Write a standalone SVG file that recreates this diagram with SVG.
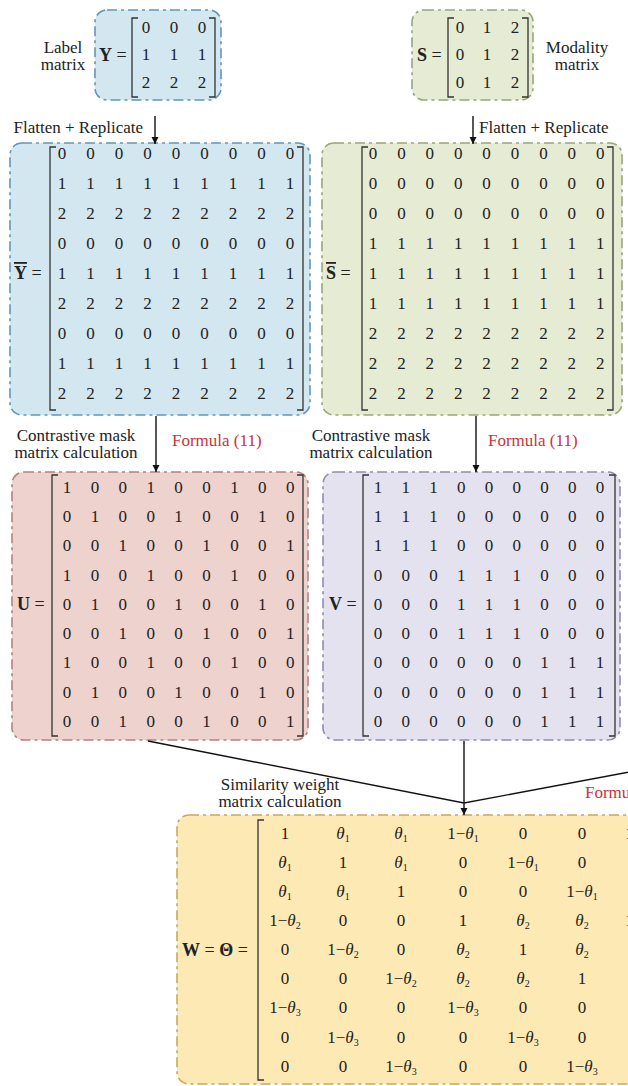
<svg xmlns="http://www.w3.org/2000/svg" width="628" height="1086" viewBox="0 0 628 1086" font-family="'Liberation Serif', 'Times New Roman', serif">
  <defs>
    <marker id="arrow" viewBox="0 0 10 10" refX="10" refY="5" markerWidth="7" markerHeight="9" markerUnits="userSpaceOnUse" orient="auto">
      <path d="M0,0 L10,5 L0,10 z" fill="#111"/>
    </marker>
    <style>
      text { font-family: "Liberation Serif", "Times New Roman", serif; fill: #222; }
      .m { font-size: 17px; text-anchor: middle; }
      .lbl { font-size: 17px; }
      .ctr { text-anchor: middle; }
      .red { fill: #c8343a; font-size: 17px; }
      .nm { font-size: 18px; }
      .b { font-weight: bold; }
      .ov { text-decoration: overline; }
      .th { font-style: italic; }
      .sub { font-size: 10px; }
      .br { fill: none; stroke: #333; stroke-width: 1.3; }
      .box { stroke-width: 1.6; stroke-dasharray: 10 4 3 4; }
      .blue { fill: #d3e7f0; stroke: #6496b8; }
      .green { fill: #e6ebd4; stroke: #98a778; }
      .pink { fill: #edd2ce; stroke: #b8807b; }
      .lav { fill: #e4e2ef; stroke: #908cb2; }
      .yel { fill: #fde9b3; stroke: #c8a95c; }
      .conn { fill: none; stroke: #111; stroke-width: 1.4; }
    </style>
  </defs>

  <rect width="628" height="1086" fill="#ffffff"/>

  <!-- label matrix Y -->
  <g id="node-Y">
    <rect class="box blue" x="95" y="10" width="126" height="90" rx="12"/>
    <text class="lbl ctr" x="63" y="53">Label</text>
    <text class="lbl ctr" x="63" y="70">matrix</text>
    <text class="nm" x="99" y="61"><tspan class="b">Y</tspan> =</text>
    <path class="br" d="M138,18 H132 V97 H138"/>
    <path class="br" d="M209,18 H215 V97 H209"/>
    <text class="m" x="146 174 202" y="33">000</text>
    <text class="m" x="146 174 202" y="60">111</text>
    <text class="m" x="146 174 202" y="88">222</text>
  </g>

  <!-- modality matrix S -->
  <g id="node-S">
    <rect class="box green" x="412" y="10" width="121" height="90" rx="12"/>
    <text class="nm" x="417" y="61"><tspan class="b">S</tspan> =</text>
    <path class="br" d="M454,18 H448 V97 H454"/>
    <path class="br" d="M522,18 H528 V97 H522"/>
    <text class="m" x="460 487 515" y="33">012</text>
    <text class="m" x="460 487 515" y="60">012</text>
    <text class="m" x="460 487 515" y="88">012</text>
    <text class="lbl ctr" x="577" y="53">Modality</text>
    <text class="lbl ctr" x="577" y="70">matrix</text>
  </g>

  <!-- replicated label matrix -->
  <g id="node-Ybar">
    <rect class="box blue" x="10" y="143" width="300" height="272" rx="12"/>
    <text class="nm" x="14" y="279"><tspan class="b ov">Y</tspan> =</text>
    <path class="br" d="M56,147 H50 V410 H56"/>
    <path class="br" d="M297,147 H303 V410 H297"/>
    <text class="m" x="62 90.5 119 147.5 176 204.5 233 261.5 290" y="159">000000000</text>
    <text class="m" x="62 90.5 119 147.5 176 204.5 233 261.5 290" y="189">111111111</text>
    <text class="m" x="62 90.5 119 147.5 176 204.5 233 261.5 290" y="219">222222222</text>
    <text class="m" x="62 90.5 119 147.5 176 204.5 233 261.5 290" y="249">000000000</text>
    <text class="m" x="62 90.5 119 147.5 176 204.5 233 261.5 290" y="279">111111111</text>
    <text class="m" x="62 90.5 119 147.5 176 204.5 233 261.5 290" y="309">222222222</text>
    <text class="m" x="62 90.5 119 147.5 176 204.5 233 261.5 290" y="339">000000000</text>
    <text class="m" x="62 90.5 119 147.5 176 204.5 233 261.5 290" y="369">111111111</text>
    <text class="m" x="62 90.5 119 147.5 176 204.5 233 261.5 290" y="399">222222222</text>
  </g>

  <!-- replicated modality matrix -->
  <g id="node-Sbar">
    <rect class="box green" x="322" y="143" width="300" height="272" rx="12"/>
    <text class="nm" x="326" y="279"><tspan class="b ov">S</tspan> =</text>
    <path class="br" d="M368,147 H362 V410 H368"/>
    <path class="br" d="M607,147 H613 V410 H607"/>
    <text class="m" x="373 401.4 429.8 458.2 486.6 515 543.4 571.8 600.2" y="159">000000000</text>
    <text class="m" x="373 401.4 429.8 458.2 486.6 515 543.4 571.8 600.2" y="189">000000000</text>
    <text class="m" x="373 401.4 429.8 458.2 486.6 515 543.4 571.8 600.2" y="219">000000000</text>
    <text class="m" x="373 401.4 429.8 458.2 486.6 515 543.4 571.8 600.2" y="249">111111111</text>
    <text class="m" x="373 401.4 429.8 458.2 486.6 515 543.4 571.8 600.2" y="279">111111111</text>
    <text class="m" x="373 401.4 429.8 458.2 486.6 515 543.4 571.8 600.2" y="309">111111111</text>
    <text class="m" x="373 401.4 429.8 458.2 486.6 515 543.4 571.8 600.2" y="339">222222222</text>
    <text class="m" x="373 401.4 429.8 458.2 486.6 515 543.4 571.8 600.2" y="369">222222222</text>
    <text class="m" x="373 401.4 429.8 458.2 486.6 515 543.4 571.8 600.2" y="399">222222222</text>
  </g>

  <!-- label mask U -->
  <g id="node-U">
    <rect class="box pink" x="12" y="472" width="296" height="268" rx="12"/>
    <text class="nm" x="17" y="610"><tspan class="b">U</tspan> =</text>
    <path class="br" d="M58,475 H52 V736 H58"/>
    <path class="br" d="M297,475 H303 V736 H297"/>
    <text class="m" x="67 94.9 122.8 150.7 178.6 206.5 234.4 262.3 290.2" y="493">100100100</text>
    <text class="m" x="67 94.9 122.8 150.7 178.6 206.5 234.4 262.3 290.2" y="522">010010010</text>
    <text class="m" x="67 94.9 122.8 150.7 178.6 206.5 234.4 262.3 290.2" y="551">001001001</text>
    <text class="m" x="67 94.9 122.8 150.7 178.6 206.5 234.4 262.3 290.2" y="581">100100100</text>
    <text class="m" x="67 94.9 122.8 150.7 178.6 206.5 234.4 262.3 290.2" y="610">010010010</text>
    <text class="m" x="67 94.9 122.8 150.7 178.6 206.5 234.4 262.3 290.2" y="639">001001001</text>
    <text class="m" x="67 94.9 122.8 150.7 178.6 206.5 234.4 262.3 290.2" y="668">100100100</text>
    <text class="m" x="67 94.9 122.8 150.7 178.6 206.5 234.4 262.3 290.2" y="698">010010010</text>
    <text class="m" x="67 94.9 122.8 150.7 178.6 206.5 234.4 262.3 290.2" y="727">001001001</text>
  </g>

  <!-- modality mask V -->
  <g id="node-V">
    <rect class="box lav" x="323" y="472" width="297" height="268" rx="12"/>
    <text class="nm" x="329" y="610"><tspan class="b">V</tspan> =</text>
    <path class="br" d="M369,475 H363 V736 H369"/>
    <path class="br" d="M609,475 H615 V736 H609"/>
    <text class="m" x="378 405.75 433.5 461.25 489 516.75 544.5 572.25 600" y="493">111000000</text>
    <text class="m" x="378 405.75 433.5 461.25 489 516.75 544.5 572.25 600" y="522">111000000</text>
    <text class="m" x="378 405.75 433.5 461.25 489 516.75 544.5 572.25 600" y="551">111000000</text>
    <text class="m" x="378 405.75 433.5 461.25 489 516.75 544.5 572.25 600" y="581">000111000</text>
    <text class="m" x="378 405.75 433.5 461.25 489 516.75 544.5 572.25 600" y="610">000111000</text>
    <text class="m" x="378 405.75 433.5 461.25 489 516.75 544.5 572.25 600" y="639">000111000</text>
    <text class="m" x="378 405.75 433.5 461.25 489 516.75 544.5 572.25 600" y="668">000000111</text>
    <text class="m" x="378 405.75 433.5 461.25 489 516.75 544.5 572.25 600" y="698">000000111</text>
    <text class="m" x="378 405.75 433.5 461.25 489 516.75 544.5 572.25 600" y="727">000000111</text>
  </g>

  <!-- similarity weight matrix W -->
  <g id="node-W">
    <rect class="box yel" x="177" y="815" width="480" height="269" rx="12"/>
    <text class="nm" x="182" y="956"><tspan class="b">W</tspan> = <tspan class="b">Θ</tspan> =</text>
    <path class="br" d="M264,820 H258 V1080 H264"/>
    <!-- row 1 -->
    <text class="m" x="285" y="839">1</text>
    <text class="m" x="343" y="839"><tspan class="th">θ</tspan><tspan class="sub" dy="3">1</tspan></text>
    <text class="m" x="401" y="839"><tspan class="th">θ</tspan><tspan class="sub" dy="3">1</tspan></text>
    <text class="m" x="463" y="839">1−<tspan class="th">θ</tspan><tspan class="sub" dy="3">1</tspan></text>
    <text class="m" x="523" y="839">0</text>
    <text class="m" x="582" y="839">0</text>
    <text class="m" x="641" y="839">1−<tspan class="th">θ</tspan><tspan class="sub" dy="3">1</tspan></text>
    <!-- row 2 -->
    <text class="m" x="285" y="868"><tspan class="th">θ</tspan><tspan class="sub" dy="3">1</tspan></text>
    <text class="m" x="343" y="868">1</text>
    <text class="m" x="401" y="868"><tspan class="th">θ</tspan><tspan class="sub" dy="3">1</tspan></text>
    <text class="m" x="463" y="868">0</text>
    <text class="m" x="523" y="868">1−<tspan class="th">θ</tspan><tspan class="sub" dy="3">1</tspan></text>
    <text class="m" x="582" y="868">0</text>
    <!-- row 3 -->
    <text class="m" x="285" y="897"><tspan class="th">θ</tspan><tspan class="sub" dy="3">1</tspan></text>
    <text class="m" x="343" y="897"><tspan class="th">θ</tspan><tspan class="sub" dy="3">1</tspan></text>
    <text class="m" x="401" y="897">1</text>
    <text class="m" x="463" y="897">0</text>
    <text class="m" x="523" y="897">0</text>
    <text class="m" x="582" y="897">1−<tspan class="th">θ</tspan><tspan class="sub" dy="3">1</tspan></text>
    <!-- row 4 -->
    <text class="m" x="285" y="926">1−<tspan class="th">θ</tspan><tspan class="sub" dy="3">2</tspan></text>
    <text class="m" x="343" y="926">0</text>
    <text class="m" x="401" y="926">0</text>
    <text class="m" x="463" y="926">1</text>
    <text class="m" x="523" y="926"><tspan class="th">θ</tspan><tspan class="sub" dy="3">2</tspan></text>
    <text class="m" x="582" y="926"><tspan class="th">θ</tspan><tspan class="sub" dy="3">2</tspan></text>
    <text class="m" x="641" y="926">1−<tspan class="th">θ</tspan><tspan class="sub" dy="3">2</tspan></text>
    <!-- row 5 -->
    <text class="m" x="285" y="955">0</text>
    <text class="m" x="343" y="955">1−<tspan class="th">θ</tspan><tspan class="sub" dy="3">2</tspan></text>
    <text class="m" x="401" y="955">0</text>
    <text class="m" x="463" y="955"><tspan class="th">θ</tspan><tspan class="sub" dy="3">2</tspan></text>
    <text class="m" x="523" y="955">1</text>
    <text class="m" x="582" y="955"><tspan class="th">θ</tspan><tspan class="sub" dy="3">2</tspan></text>
    <!-- row 6 -->
    <text class="m" x="285" y="984">0</text>
    <text class="m" x="343" y="984">0</text>
    <text class="m" x="401" y="984">1−<tspan class="th">θ</tspan><tspan class="sub" dy="3">2</tspan></text>
    <text class="m" x="463" y="984"><tspan class="th">θ</tspan><tspan class="sub" dy="3">2</tspan></text>
    <text class="m" x="523" y="984"><tspan class="th">θ</tspan><tspan class="sub" dy="3">2</tspan></text>
    <text class="m" x="582" y="984">1</text>
    <!-- row 7 -->
    <text class="m" x="285" y="1013">1−<tspan class="th">θ</tspan><tspan class="sub" dy="3">3</tspan></text>
    <text class="m" x="343" y="1013">0</text>
    <text class="m" x="401" y="1013">0</text>
    <text class="m" x="463" y="1013">1−<tspan class="th">θ</tspan><tspan class="sub" dy="3">3</tspan></text>
    <text class="m" x="523" y="1013">0</text>
    <text class="m" x="582" y="1013">0</text>
    <!-- row 8 -->
    <text class="m" x="285" y="1043">0</text>
    <text class="m" x="343" y="1043">1−<tspan class="th">θ</tspan><tspan class="sub" dy="3">3</tspan></text>
    <text class="m" x="401" y="1043">0</text>
    <text class="m" x="463" y="1043">0</text>
    <text class="m" x="523" y="1043">1−<tspan class="th">θ</tspan><tspan class="sub" dy="3">3</tspan></text>
    <text class="m" x="582" y="1043">0</text>
    <!-- row 9 -->
    <text class="m" x="285" y="1072">0</text>
    <text class="m" x="343" y="1072">0</text>
    <text class="m" x="401" y="1072">1−<tspan class="th">θ</tspan><tspan class="sub" dy="3">3</tspan></text>
    <text class="m" x="463" y="1072">0</text>
    <text class="m" x="523" y="1072">0</text>
    <text class="m" x="582" y="1072">1−<tspan class="th">θ</tspan><tspan class="sub" dy="3">3</tspan></text>
  </g>

  <!-- connectors and their labels -->
  <g id="connectors">
    <line class="conn" x1="155" y1="116" x2="155" y2="144" marker-end="url(#arrow)"/>
    <line class="conn" x1="473" y1="116" x2="473" y2="144" marker-end="url(#arrow)"/>
    <text class="lbl" x="143" y="133" text-anchor="end">Flatten + Replicate</text>
    <text class="lbl" x="479" y="133">Flatten + Replicate</text>

    <line class="conn" x1="156" y1="416" x2="156" y2="472" marker-end="url(#arrow)"/>
    <line class="conn" x1="476" y1="416" x2="476" y2="472" marker-end="url(#arrow)"/>
    <text class="lbl ctr" x="76" y="441">Contrastive mask</text>
    <text class="lbl ctr" x="76" y="458">matrix calculation</text>
    <text class="red" x="172" y="446">Formula (11)</text>
    <text class="lbl ctr" x="371" y="441">Contrastive mask</text>
    <text class="lbl ctr" x="371" y="458">matrix calculation</text>
    <text class="red" x="488" y="446">Formula (11)</text>

    <polyline class="conn" points="148,741 464,803 640,770"/>
    <line class="conn" x1="464" y1="741" x2="464" y2="815" marker-end="url(#arrow)"/>
    <text class="lbl ctr" x="280" y="790">Similarity weight</text>
    <text class="lbl ctr" x="280" y="807">matrix calculation</text>
    <text class="red" x="585" y="798">Formula (11)</text>
  </g>
</svg>
